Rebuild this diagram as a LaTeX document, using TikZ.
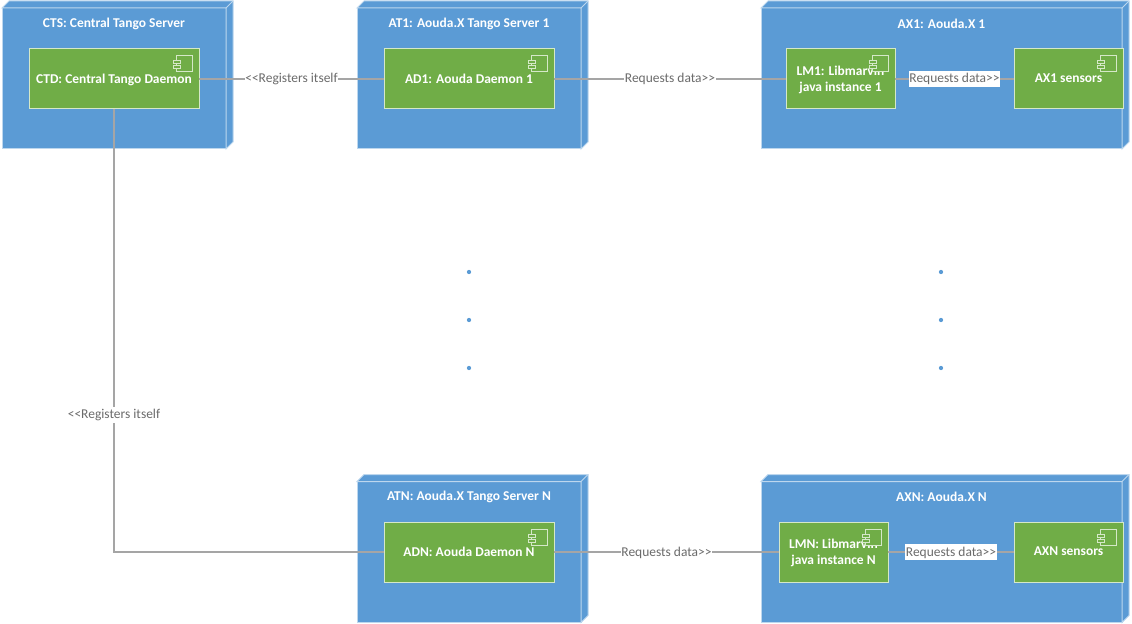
\documentclass[tikz,border=0pt]{standalone}
\usepackage{fontspec}
\setmainfont{Carlito}
\definecolor{devblue}{HTML}{5B9BD5}
\definecolor{devline}{HTML}{BDD7EE}
\definecolor{compgreen}{HTML}{70AD47}
\definecolor{compline}{HTML}{D5E8C8}
\definecolor{linkgrey}{HTML}{A5A5A5}
\definecolor{textgrey}{HTML}{6B6B6B}
\tikzset{
  device node/.style={rectangle,draw=devline,fill=devblue,line width=.75pt,inner sep=0pt,outer sep=0pt,minimum height=105.75pt},
  device title/.style={text=white,font=\fontsize{10.1}{12}\selectfont\bfseries,inner sep=0pt},
  comp node/.style={rectangle,draw=compline,fill=compgreen,line width=.75pt,text=white,align=center,font=\fontsize{10.1}{12.4}\selectfont\bfseries,text depth=.6pt,inner sep=0pt,outer sep=0pt,minimum height=45pt},
  link/.style={draw=linkgrey,line width=1.25pt},
  link label/.style={fill=white,text=textgrey,font=\fontsize{10.1}{12}\selectfont,text height=7.5pt,text depth=1.5pt,inner xsep=.4pt,inner ysep=1.5pt},
  comp icon/.pic={
    \draw[compline,line width=.75pt,fill=compgreen] (-23,7) rectangle (-7,23);
    \draw[compline,line width=.75pt,fill=compgreen] (-26,12) rectangle (-19,15);
    \draw[compline,line width=.75pt,fill=compgreen] (-26,17) rectangle (-19,20);
  }
}
\begin{document}
\begin{tikzpicture}[x=.75pt,y=-.75pt]
\useasboundingbox (0,0) rectangle (1132,624);
% devices
\node[device node,minimum width=168pt] (CTS) at (114,78.5) {};
\node[device node,minimum width=168pt] (AT1) at (469,78.5) {};
\node[device node,minimum width=270.75pt] (AX1) at (941.5,78.5) {};
\node[device node,minimum width=168pt] (ATN) at (469,552) {};
\node[device node,minimum width=270.75pt] (AXN) at (941.5,552) {};
\foreach \dev in {CTS,AT1,AX1,ATN,AXN} {
  \draw[draw=devline,fill=devblue,line width=.75pt] (\dev.north west) -- ++(7,-7) -- ([shift={(7,-7)}]\dev.north east) -- ([shift={(7,-7)}]\dev.south east) -- (\dev.south east) -- (\dev.north east) -- cycle;
  \draw[draw=devline,line width=.75pt] (\dev.north east) -- ++(7,-7);
}
\node[device title] (CTStitle) at (114,23.7) {CTS: Central Tango Server};
\node[device title] (AT1title) at (469,23.7) {AT1: Aouda.X Tango Server 1};
\node[device title] (AX1title) at (941.5,23.7) {AX1: Aouda.X 1};
\node[device title] (ATNtitle) at (469,496.7) {ATN: Aouda.X Tango Server N};
\node[device title] (AXNtitle) at (941.5,496.7) {AXN: Aouda.X N};
% components
\node[comp node,minimum width=127.5pt] (CTD) at (114,79) {CTD: Central Tango Daemon};
\node[comp node,minimum width=127.5pt] (AD1) at (469,79) {AD1: Aouda Daemon 1};
\node[comp node,minimum width=81.75pt] (LM1) at (840.5,79) {LM1: Libmarvin\\java instance 1};
\node[comp node,minimum width=81.75pt] (S1) at (1068.5,79) {AX1 sensors};
\node[comp node,minimum width=127.5pt] (ADN) at (469,552) {ADN: Aouda Daemon N};
\node[comp node,minimum width=81.75pt] (LMN) at (833.5,552) {LMN: Libmarvin\\java instance N};
\node[comp node,minimum width=81.75pt] (SN) at (1068.5,552) {AXN sensors};
\foreach \comp in {CTD,AD1,LM1,S1,ADN,LMN,SN} {
  \pic at (\comp.north east) {comp icon};
}
% connectors
\draw[link] (CTD) -- node[link label] {<{}<Registers itself} (AD1);
\draw[link] (AD1) -- node[link label] {Requests data>{}>} (LM1);
\draw[link] (LM1) -- node[link label] {Requests data>{}>} (S1);
\draw[link] (CTD.south) |- node[link label,pos=.345] {<{}<Registers itself} (ADN);
\draw[link] (ADN) -- node[link label] {Requests data>{}>} (LMN);
\draw[link] (LMN) -- node[link label] {Requests data>{}>} (SN);
% dots
\foreach \x in {469,941} {
  \foreach \y in {272,320,368} {
    \fill[devblue] (\x,\y) circle (1.6pt);
  }
}
\end{tikzpicture}
\end{document}
